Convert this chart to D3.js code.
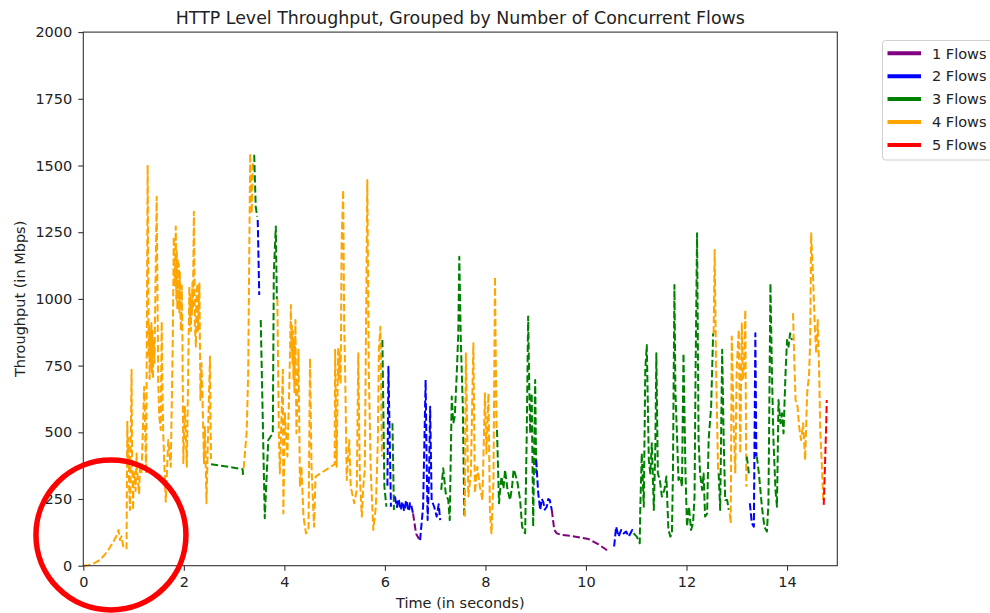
<!DOCTYPE html>
<html>
<head>
<meta charset="utf-8">
<script src="https://cdn.jsdelivr.net/npm/d3@7"></script>
<style>
  body { margin: 0; background: #fff; }
  svg { font-family: "DejaVu Sans", sans-serif; }
</style>
</head>
<body>
<div id="chart"></div>
<script>
const title = "HTTP Level Throughput, Grouped by Number of Concurrent Flows";
const flowCounts = [1, 2, 3, 4, 5];
const flowLabels = ["1 Flows", "2 Flows", "3 Flows", "4 Flows", "5 Flows"];
const xTicks = [0, 2, 4, 6, 8, 10, 12, 14];
const yTicks = [0, 250, 500, 750, 1000, 1250, 1500, 1750, 2000];

// [time (s), throughput (Mbps), concurrent flows]
const samples = [
  [0,0,4],[0.1,2,4],[0.2,8,4],[0.3,18,4],[0.4,35,4],[0.5,60,4],[0.6,90,4],[0.66,112,4],[0.7,134,4],
  [0.73,96,4],[0.76,110,4],[0.8,66,4],[0.86,65,4],[0.875,540,4],[0.89,380,4],[0.9,480,4],[0.91,300,4],
  [0.93,209,4],[0.96,734,4],[0.97,420,4],[0.99,209,4],[1.0,330,4],[1.02,350,4],[1.04,280,4],[1.06,421,4],
  [1.08,330,4],[1.11,272,4],[1.13,380,4],[1.16,346,4],[1.21,671,4],[1.25,346,4],
  [1.28,1502,4],[1.30,780,4],[1.31,900,4],[1.32,700,4],[1.33,880,4],[1.345,760,4],[1.355,910,4],
  [1.365,720,4],[1.375,880,4],[1.385,700,4],[1.40,850,4],[1.415,760,4],[1.425,900,4],
  [1.46,1383,4],[1.49,696,4],[1.51,560,4],[1.54,509,4],[1.56,915,4],[1.57,700,4],[1.59,496,4],[1.64,240,4],
  [1.69,471,4],[1.74,371,4],[1.78,846,4],[1.80,1233,4],[1.82,1050,4],[1.84,1271,4],[1.85,1000,4],
  [1.86,1180,4],[1.87,960,4],[1.88,1150,4],[1.89,1000,4],[1.90,1133,4],[1.91,950,4],[1.92,1100,4],
  [1.94,880,4],[1.96,1050,4],[1.97,896,4],[1.99,384,4],[2.02,596,4],[2.06,371,4],[2.11,1046,4],
  [2.12,900,4],[2.13,1020,4],[2.14,880,4],[2.15,1000,4],[2.16,940,4],[2.17,1060,4],[2.18,960,4],
  [2.20,1327,4],[2.22,900,4],[2.24,821,4],[2.25,1000,4],[2.27,1058,4],[2.28,880,4],[2.31,1058,4],
  [2.33,621,4],[2.35,760,4],[2.37,646,4],[2.40,384,4],[2.42,520,4],[2.45,234,4],[2.49,559,4],
  [2.52,784,4],[2.54,400,4],
  [2.54,380,3],[2.85,372,3],[3.17,362,3],[3.18,336,3],
  [3.19,365,4],[3.25,500,4],[3.28,721,4],[3.32,1546,4],[3.35,1321,4],[3.38,1521,4],
  [3.40,1540,3],[3.43,1346,3],[3.46,1308,3],
  [3.47,1296,2],[3.50,1015,2],
  [3.53,921,3],[3.57,550,3],[3.61,178,3],[3.68,471,3],[3.77,496,3],[3.79,1096,3],[3.83,1271,3],[3.85,1000,3],
  [3.86,1000,4],[3.89,500,4],[3.91,346,4],[3.97,734,4],[3.98,196,4],[4.01,571,4],[4.06,409,4],
  [4.10,684,4],[4.13,977,4],[4.14,800,4],[4.15,900,4],[4.16,760,4],[4.17,880,4],[4.18,700,4],
  [4.19,850,4],[4.20,650,4],[4.22,921,4],[4.23,700,4],[4.24,496,4],[4.26,640,4],[4.28,809,4],
  [4.31,296,4],[4.34,371,4],[4.38,184,4],[4.43,121,4],[4.48,134,4],[4.51,777,4],[4.54,371,4],
  [4.59,146,4],[4.62,334,4],[4.75,350,4],[4.9,368,4],[5.0,380,4],[5.01,809,4],[5.04,371,4],
  [5.07,821,4],[5.08,700,4],[5.10,800,4],[5.12,680,4],[5.14,1221,4],[5.17,1408,4],[5.19,900,4],
  [5.21,721,4],[5.24,321,4],[5.29,471,4],
  [5.32,296,4],[5.39,234,4],[5.44,284,4],[5.47,796,4],[5.50,346,4],[5.54,184,4],[5.57,296,4],
  [5.60,359,4],[5.65,1446,4],[5.68,721,4],[5.72,346,4],[5.77,134,4],[5.82,221,4],[5.86,471,4],
  [5.88,809,4],[5.91,896,4],[5.94,409,4],
  [5.95,846,3],[5.99,296,3],[6.03,221,3],
  [6.05,300,2],[6.07,746,2],[6.12,221,2],
  [6.15,534,3],[6.18,209,3],
  [6.20,260,2],[6.22,235,2],[6.24,220,2],[6.26,250,2],[6.28,245,2],[6.30,215,2],[6.32,210,2],
  [6.34,240,2],[6.36,235,2],[6.38,205,2],[6.40,215,2],[6.42,245,2],[6.44,240,2],[6.46,210,2],
  [6.48,205,2],[6.50,235,2],[6.52,230,2],[6.56,196,2],
  [6.56,196,1],[6.62,120,1],[6.68,100,1],
  [6.70,96,2],[6.76,221,2],[6.81,696,2],[6.83,400,2],[6.85,171,2],[6.88,350,2],[6.90,596,2],
  [6.93,246,2],[6.98,221,2],[7.03,184,2],[7.07,230,2],[7.10,171,2],
  [7.12,284,3],[7.16,365,3],[7.21,272,3],[7.26,246,3],[7.29,171,3],[7.33,634,3],[7.36,534,3],
  [7.39,559,3],[7.43,721,3],[7.46,871,3],[7.48,1158,3],[7.51,846,3],[7.55,596,3],[7.58,184,3],
  [7.59,184,4],[7.61,796,4],[7.66,259,4],[7.71,346,4],[7.76,834,4],[7.79,272,4],[7.84,371,4],
  [7.89,296,4],[7.94,246,4],[7.99,646,4],[8.02,421,4],[8.06,646,4],[8.09,196,4],[8.12,121,4],
  [8.16,321,4],[8.19,1083,4],[8.22,509,4],
  [8.23,509,3],[8.27,234,3],[8.30,300,3],[8.32,334,3],[8.36,290,3],[8.39,359,3],[8.44,284,3],
  [8.49,246,3],[8.53,296,3],[8.56,360,3],[8.59,346,3],[8.64,309,3],[8.69,246,3],[8.73,146,3],
  [8.79,121,3],[8.82,471,3],[8.85,934,3],[8.87,700,3],
  [8.89,496,3],[8.92,646,3],[8.95,146,3],[8.99,696,3],[9.01,346,3],
  [9.01,396,2],[9.05,272,2],[9.09,209,2],[9.12,250,2],[9.15,240,2],[9.18,210,2],[9.22,221,2],
  [9.25,250,2],[9.28,246,2],[9.32,209,2],
  [9.32,209,1],[9.37,134,1],[9.42,121,1],[9.52,115,1],[9.7,112,1],[9.9,105,1],[10.05,100,1],
  [10.25,80,1],[10.42,58,1],
  [10.56,72,2],[10.60,146,2],[10.65,109,2],[10.70,134,2],[10.75,121,2],[10.80,128,2],[10.85,109,2],
  [10.92,134,2],[10.95,121,2],
  [10.95,121,3],[11.01,109,3],[11.07,84,3],[11.08,209,3],[11.11,421,3],[11.15,221,3],[11.18,734,3],
  [11.21,827,3],[11.25,396,3],[11.28,346,3],[11.31,459,3],[11.35,209,3],[11.38,446,3],[11.40,796,3],
  [11.43,346,3],[11.47,321,3],[11.51,259,3],[11.56,284,3],[11.60,334,3],[11.64,134,3],[11.68,109,3],
  [11.71,121,3],[11.73,346,3],[11.76,1052,3],[11.78,646,3],[11.81,496,3],[11.84,321,3],[11.88,334,3],
  [11.91,296,3],[11.94,796,3],[11.98,346,3],[12.01,146,3],[12.05,221,3],[12.09,134,3],[12.13,159,3],
  [12.16,259,3],[12.18,721,3],[12.21,1246,3],[12.24,471,3],[12.27,346,3],[12.31,284,3],[12.34,346,3],
  [12.37,184,3],[12.41,196,3],[12.44,471,3],[12.49,596,3],[12.53,871,3],
  [12.54,871,4],[12.56,1183,4],[12.59,721,4],[12.63,346,4],
  [12.64,346,3],[12.67,209,3],[12.71,809,3],[12.74,471,3],[12.77,246,3],[12.81,246,3],[12.84,209,3],
  [12.86,196,4],[12.88,159,4],[12.90,859,4],[12.94,521,4],[12.97,346,4],[13.00,746,4],[13.04,884,4],
  [13.07,421,4],[13.10,909,4],[13.12,700,4],[13.14,721,4],[13.17,959,4],[13.19,296,4],
  [13.20,409,3],[13.24,346,3],
  [13.26,234,2],[13.30,159,2],[13.34,146,2],[13.37,871,2],[13.39,409,2],
  [13.40,409,3],[13.44,346,3],[13.47,284,3],[13.50,221,3],[13.55,146,3],[13.60,128,3],[13.63,234,3],
  [13.67,1058,3],[13.70,721,3],[13.73,471,3],[13.77,284,3],[13.80,221,3],[13.83,621,3],[13.87,534,3],
  [13.90,571,3],[13.93,496,3],[13.97,721,3],[14.00,846,3],[14.03,821,3],[14.06,871,3],[14.10,846,3],
  [14.12,946,4],[14.14,796,4],[14.17,621,4],[14.21,596,4],[14.24,521,4],[14.28,471,4],[14.32,534,4],
  [14.36,396,4],[14.40,646,4],[14.44,721,4],[14.46,846,4],[14.48,1246,4],[14.52,1071,4],[14.55,909,4],
  [14.58,796,4],[14.61,921,4],[14.64,721,4],[14.66,509,4],[14.70,346,4],[14.72,246,4],
  [14.73,228,5],[14.75,346,5],[14.78,534,5],[14.79,621,5]
];

// annotation circle drawn over the start of the transfer
const highlight = { t: 0.55, mbps: 115 };

const colors = d3.scaleOrdinal()
  .domain(flowCounts)
  .range(["purple", "blue", "green", "orange", "red"]);

const width = 990, height = 613;
const margin = { top: 32.1, right: 152.7, bottom: 47.3, left: 83.3 };

const svg = d3.select("#chart").append("svg")
  .attr("width", width)
  .attr("height", height);

const x = d3.scaleLinear().domain([0, 15]).range([margin.left, width - margin.right]);
const y = d3.scaleLinear().domain([0, 2000]).range([height - margin.bottom, margin.top]);

// group consecutive samples with the same flow count into runs
const runs = [];
samples.forEach(s => {
  const last = runs[runs.length - 1];
  if (last && last.flows === s[2]) last.pts.push(s);
  else runs.push({ flows: s[2], pts: [s] });
});

const line = d3.line().x(d => x(d[0])).y(d => y(d[1]));

svg.append("g")
  .selectAll("path")
  .data(runs)
  .enter().append("path")
  .attr("d", d => line(d.pts))
  .attr("fill", "none")
  .attr("stroke", d => colors(d.flows))
  .attr("stroke-width", 2)
  .attr("stroke-dasharray", "7.2,3")
  .attr("stroke-linejoin", "round");

// frame
svg.append("rect")
  .attr("x", x(0))
  .attr("y", y(2000))
  .attr("width", x(15) - x(0))
  .attr("height", y(0) - y(2000))
  .attr("fill", "none")
  .attr("stroke", "#333")
  .attr("stroke-width", 1.1);

const xAxis = svg.append("g")
  .attr("transform", `translate(0,${y(0)})`)
  .call(d3.axisBottom(x).tickValues(xTicks).tickSize(5).tickPadding(6).tickFormat(d3.format("d")));

const yAxis = svg.append("g")
  .attr("transform", `translate(${x(0)},0)`)
  .call(d3.axisLeft(y).tickValues(yTicks).tickSize(5).tickPadding(6).tickFormat(d3.format("d")));

[xAxis, yAxis].forEach(g => {
  g.select(".domain").remove();
  g.selectAll("line").attr("stroke", "#333").attr("stroke-width", 1.1);
  g.selectAll("text")
    .attr("fill", "#222")
    .style("font-family", "DejaVu Sans")
    .style("font-size", "14.5px");
});

svg.append("text")
  .attr("x", (x(0) + x(15)) / 2)
  .attr("y", 24)
  .attr("text-anchor", "middle")
  .attr("fill", "#222")
  .style("font-size", "17.4px")
  .text(title);

svg.append("text")
  .attr("x", (x(0) + x(15)) / 2)
  .attr("y", 608)
  .attr("text-anchor", "middle")
  .attr("fill", "#222")
  .style("font-size", "14.5px")
  .text("Time (in seconds)");

svg.append("text")
  .attr("transform", `translate(25,${(y(0) + y(2000)) / 2}) rotate(-90)`)
  .attr("text-anchor", "middle")
  .attr("fill", "#222")
  .style("font-size", "14.5px")
  .text("Throughput (in Mbps)");

// legend
const legend = svg.append("g").attr("transform", "translate(882.5,40.5)");
legend.append("rect")
  .attr("width", 130)
  .attr("height", 119.5)
  .attr("rx", 3)
  .attr("fill", "#fff")
  .attr("stroke", "#d0d0d0");

flowCounts.forEach((f, i) => {
  const cy = 12.8 + i * 22.9;
  legend.append("line")
    .attr("x1", 5).attr("x2", 38.5)
    .attr("y1", cy).attr("y2", cy)
    .attr("stroke", colors(f))
    .attr("stroke-width", 4);
  legend.append("text")
    .attr("x", 49.5)
    .attr("y", cy + 5.2)
    .attr("fill", "#222")
    .style("font-size", "14.5px")
    .text(flowLabels[i]);
});

svg.append("circle")
  .attr("cx", x(highlight.t))
  .attr("cy", y(highlight.mbps))
  .attr("r", 75)
  .attr("fill", "none")
  .attr("stroke", "red")
  .attr("stroke-width", 5.5);
</script>
</body>
</html>
